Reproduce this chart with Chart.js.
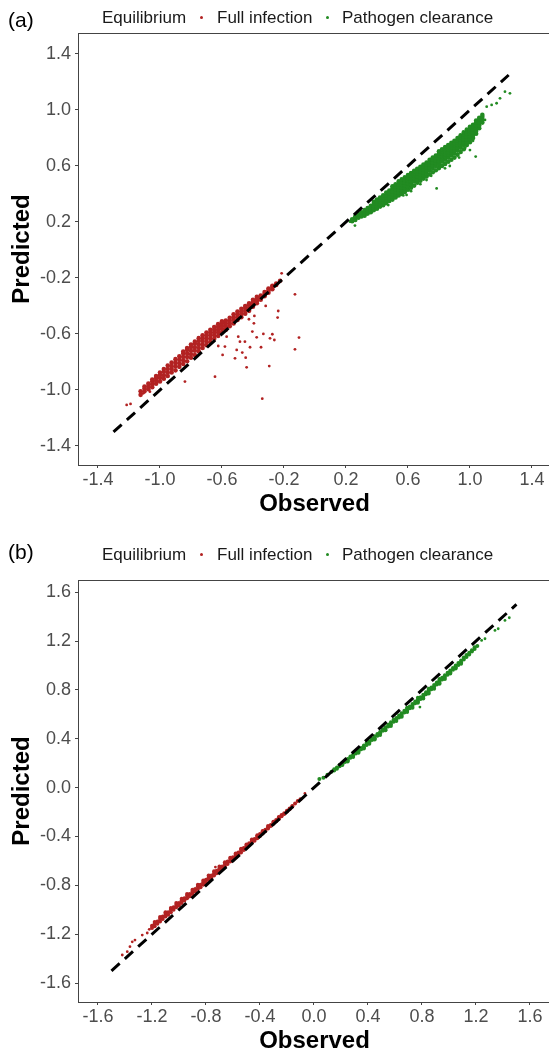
<!DOCTYPE html>
<html>
<head>
<meta charset="utf-8">
<script src="https://cdn.jsdelivr.net/npm/chart.js@4/dist/chart.umd.min.js"></script>
<style>
  body { margin: 0; background: #fff; font-family: "Liberation Sans", Arial, sans-serif; }
  .panel { position: absolute; left: 0; width: 549px; overflow: hidden; }
  .panel canvas { position: absolute; left: 0; top: 0; }
  .tag { position: absolute; left: 8px; font-size: 21px; line-height: 24px; color: #000; }
  .lg { position: absolute; font-size: 17px; line-height: 20px; color: #1a1a1a; white-space: nowrap; }
  .dot { position: absolute; width: 3px; height: 3px; border-radius: 50%; }
</style>
</head>
<body>

<div class="panel" style="top:0; height:520px;">
  <canvas id="chartA" width="555" height="520"></canvas>
  <div class="tag" style="top:8px;">(a)</div>
  <div class="lg" style="left:102px; top:8px;">Equilibrium</div>
  <div class="dot" style="left:200px; top:16px; background:#b22222;"></div>
  <div class="lg" style="left:217px; top:8px;">Full infection</div>
  <div class="dot" style="left:326px; top:16px; background:#228b22;"></div>
  <div class="lg" style="left:342px; top:8px;">Pathogen clearance</div>
</div>

<div class="panel" style="top:520px; height:536px;">
  <canvas id="chartB" width="555" height="536"></canvas>
  <div class="tag" style="top:20px;">(b)</div>
  <div class="lg" style="left:102px; top:25px;">Equilibrium</div>
  <div class="dot" style="left:200px; top:33px; background:#b22222;"></div>
  <div class="lg" style="left:217px; top:25px;">Full infection</div>
  <div class="dot" style="left:326px; top:33px; background:#228b22;"></div>
  <div class="lg" style="left:342px; top:25px;">Pathogen clearance</div>
</div>

<script>
const FONT = '"Liberation Sans", Arial, sans-serif';
const RED = '#b22222';
const GREEN = '#228b22';

// ---- panel (a) ----
const ticksA = [-1.4, -1.0, -0.6, -0.2, 0.2, 0.6, 1.0, 1.4];
const xRangeA = [-1.529, 1.523];
const yRangeA = [-1.536, 1.55];
const refLineA = [-1.3, 1.25];

// columns: [observed, predicted, predicted, ...]
const fullInfectionA = [
  [-1.125, -1.035, -1.01],
  [-1.1, -1.01, -0.99, -0.975],
  [-1.075, -0.995, -0.975, -0.955],
  [-1.05, -0.98, -0.96, -0.94, -0.925],
  [-1.025, -0.955, -0.935, -0.915, -0.9],
  [-1.0, -0.94, -0.915, -0.895, -0.875],
  [-0.975, -0.92, -0.895, -0.87, -0.85],
  [-0.95, -0.9, -0.875, -0.85, -0.825],
  [-0.925, -0.875, -0.85, -0.83, -0.805],
  [-0.9, -0.86, -0.83, -0.805, -0.78],
  [-0.875, -0.835, -0.81, -0.785, -0.76],
  [-0.85, -0.815, -0.79, -0.765, -0.74, -0.725],
  [-0.825, -0.795, -0.765, -0.74, -0.715, -0.7],
  [-0.8, -0.77, -0.745, -0.72, -0.695, -0.675],
  [-0.775, -0.75, -0.72, -0.695, -0.67, -0.655],
  [-0.75, -0.725, -0.7, -0.675, -0.65, -0.63],
  [-0.725, -0.7, -0.675, -0.65, -0.63, -0.61],
  [-0.7, -0.68, -0.655, -0.63, -0.61, -0.59],
  [-0.675, -0.66, -0.635, -0.61, -0.59, -0.57],
  [-0.65, -0.635, -0.61, -0.59, -0.57, -0.55],
  [-0.625, -0.615, -0.59, -0.57, -0.55, -0.53],
  [-0.6, -0.59, -0.565, -0.545, -0.525, -0.51],
  [-0.575, -0.57, -0.545, -0.525, -0.505],
  [-0.55, -0.545, -0.525, -0.505, -0.485],
  [-0.525, -0.525, -0.5, -0.48, -0.46],
  [-0.5, -0.5, -0.48, -0.46, -0.44],
  [-0.475, -0.48, -0.46, -0.44, -0.42],
  [-0.45, -0.455, -0.435, -0.415, -0.4],
  [-0.425, -0.435, -0.415, -0.395, -0.38],
  [-0.4, -0.405, -0.39, -0.37, -0.355],
  [-0.375, -0.38, -0.365, -0.35, -0.335],
  [-0.35, -0.355, -0.34, -0.325],
  [-0.325, -0.33, -0.315, -0.3],
  [-0.3, -0.305, -0.29, -0.275],
  [-0.275, -0.28, -0.265, -0.255],
  [-0.25, -0.25, -0.24],
  [-0.225, -0.22]
];
const fullInfectionOutA = [
  [-0.215, -0.167], [-0.129, -0.317], [-0.237, -0.436], [-0.241, -0.483], [-0.318, -0.4],
  [-0.391, -0.471], [-0.426, -0.495], [-0.394, -0.524], [-0.404, -0.583], [-0.376, -0.624],
  [-0.333, -0.6], [-0.29, -0.631], [-0.275, -0.602], [-0.262, -0.643], [-0.103, -0.626],
  [-0.129, -0.71], [-0.348, -0.695], [-0.419, -0.695], [-0.484, -0.655], [-0.452, -0.655],
  [-0.495, -0.619], [-0.505, -0.714], [-0.516, -0.774], [-0.447, -0.769], [-0.469, -0.733],
  [-0.57, -0.619], [-0.581, -0.69], [-0.596, -0.75], [-0.624, -0.686], [-0.645, -0.905],
  [-0.839, -0.94], [-0.441, -0.838], [-0.295, -0.829], [-0.34, -1.062], [-1.215, -1.107],
  [-1.19, -1.1], [-1.108, -1.024], [-1.065, -1.012]
];
const clearanceA = [
  [0.24, 0.205, 0.22],
  [0.26, 0.215, 0.23, 0.24],
  [0.28, 0.23, 0.245, 0.255],
  [0.3, 0.24, 0.255, 0.27],
  [0.32, 0.245, 0.255, 0.27, 0.285],
  [0.34, 0.26, 0.27, 0.285, 0.3],
  [0.36, 0.27, 0.285, 0.3, 0.315],
  [0.38, 0.285, 0.3, 0.315, 0.33, 0.345],
  [0.4, 0.295, 0.31, 0.33, 0.345, 0.36],
  [0.42, 0.31, 0.325, 0.345, 0.36, 0.375],
  [0.44, 0.32, 0.34, 0.36, 0.375, 0.39],
  [0.46, 0.335, 0.355, 0.375, 0.39, 0.41],
  [0.48, 0.35, 0.37, 0.39, 0.405, 0.425],
  [0.5, 0.36, 0.38, 0.4, 0.42, 0.44, 0.455],
  [0.52, 0.375, 0.395, 0.415, 0.435, 0.455, 0.47],
  [0.54, 0.39, 0.41, 0.43, 0.45, 0.47, 0.49],
  [0.56, 0.4, 0.425, 0.445, 0.465, 0.485, 0.505],
  [0.58, 0.415, 0.44, 0.46, 0.48, 0.5, 0.52],
  [0.6, 0.43, 0.455, 0.475, 0.495, 0.515, 0.535],
  [0.62, 0.445, 0.47, 0.49, 0.51, 0.53, 0.55],
  [0.64, 0.46, 0.49, 0.51, 0.53, 0.55, 0.565],
  [0.66, 0.48, 0.505, 0.525, 0.545, 0.565, 0.58],
  [0.68, 0.495, 0.52, 0.54, 0.56, 0.58, 0.595],
  [0.7, 0.51, 0.535, 0.555, 0.575, 0.595, 0.61],
  [0.72, 0.525, 0.55, 0.57, 0.59, 0.61, 0.625],
  [0.74, 0.54, 0.57, 0.59, 0.61, 0.63, 0.645],
  [0.76, 0.555, 0.585, 0.605, 0.625, 0.645, 0.66],
  [0.78, 0.57, 0.6, 0.62, 0.64, 0.66, 0.675],
  [0.8, 0.585, 0.615, 0.635, 0.655, 0.675, 0.69, 0.705],
  [0.82, 0.6, 0.63, 0.65, 0.67, 0.69, 0.705, 0.72],
  [0.84, 0.615, 0.645, 0.665, 0.685, 0.705, 0.72, 0.735],
  [0.86, 0.63, 0.66, 0.68, 0.7, 0.72, 0.735, 0.75],
  [0.88, 0.645, 0.675, 0.695, 0.715, 0.735, 0.75, 0.765],
  [0.9, 0.66, 0.69, 0.71, 0.73, 0.75, 0.765, 0.78],
  [0.92, 0.68, 0.71, 0.73, 0.75, 0.77, 0.785, 0.8],
  [0.94, 0.7, 0.73, 0.75, 0.77, 0.79, 0.805, 0.82],
  [0.96, 0.72, 0.75, 0.77, 0.79, 0.81, 0.825, 0.84],
  [0.98, 0.75, 0.77, 0.79, 0.81, 0.83, 0.845, 0.86],
  [1.0, 0.77, 0.79, 0.81, 0.83, 0.85, 0.865, 0.88],
  [1.02, 0.8, 0.82, 0.84, 0.86, 0.88, 0.895],
  [1.04, 0.83, 0.85, 0.87, 0.89, 0.91, 0.925],
  [1.06, 0.87, 0.89, 0.91, 0.93, 0.945],
  [1.08, 0.91, 0.93, 0.95, 0.965]
];
const clearanceOutA = [
  [1.226, 1.131], [1.258, 1.119], [1.194, 1.083], [1.172, 1.048], [1.14, 1.036],
  [1.108, 1.024], [1.097, 0.929], [1.0, 0.714], [1.037, 0.667], [0.785, 0.44],
  [0.839, 0.583], [0.72, 0.5], [0.591, 0.393], [0.473, 0.321], [0.258, 0.174],
  [0.226, 0.202], [0.62, 0.42], [0.68, 0.47], [0.75, 0.53], [0.87, 0.6],
  [0.93, 0.66], [0.97, 0.73], [1.02, 0.78], [0.57, 0.39]
];

// ---- panel (b) ----
const ticksB = [-1.6, -1.2, -0.8, -0.4, 0.0, 0.4, 0.8, 1.2, 1.6];
const xRangeB = [-1.748, 1.756];
const yRangeB = [-1.755, 1.70];
const refLineB = [-1.5, 1.5];

const fullInfectionB = [
  [-1.2, -1.13, -1.15], [-1.18, -1.115, -1.135, -1.1], [-1.16, -1.095, -1.115],
  [-1.14, -1.075, -1.095, -1.06], [-1.12, -1.055, -1.075], [-1.1, -1.035, -1.055, -1.02],
  [-1.08, -1.02, -1.04], [-1.06, -1.0, -1.02, -0.985], [-1.04, -0.98, -1.0],
  [-1.02, -0.96, -0.98, -0.945], [-1.0, -0.945, -0.965], [-0.98, -0.925, -0.945, -0.91],
  [-0.96, -0.905, -0.925], [-0.94, -0.885, -0.905, -0.87], [-0.92, -0.87, -0.89],
  [-0.9, -0.85, -0.87, -0.835], [-0.88, -0.83, -0.85], [-0.86, -0.81, -0.83, -0.795],
  [-0.84, -0.795, -0.815], [-0.82, -0.775, -0.795, -0.76], [-0.8, -0.755, -0.775],
  [-0.78, -0.735, -0.755, -0.72], [-0.76, -0.72, -0.74], [-0.74, -0.7, -0.72, -0.685],
  [-0.72, -0.68, -0.7], [-0.7, -0.66, -0.68, -0.645], [-0.68, -0.645, -0.665],
  [-0.66, -0.625, -0.645, -0.61], [-0.64, -0.605, -0.625], [-0.62, -0.585, -0.605, -0.575],
  [-0.6, -0.57, -0.59], [-0.58, -0.55, -0.57, -0.54], [-0.56, -0.53, -0.55],
  [-0.54, -0.51, -0.53, -0.5], [-0.52, -0.495, -0.51], [-0.5, -0.475, -0.49, -0.465],
  [-0.48, -0.455, -0.47], [-0.46, -0.435, -0.45, -0.425], [-0.44, -0.42, -0.435],
  [-0.42, -0.4, -0.415, -0.39], [-0.4, -0.38, -0.395], [-0.38, -0.36, -0.375, -0.355],
  [-0.36, -0.345, -0.355], [-0.34, -0.325, -0.335, -0.315], [-0.32, -0.305, -0.315],
  [-0.3, -0.285, -0.295, -0.28], [-0.28, -0.265, -0.275], [-0.26, -0.245, -0.255, -0.24],
  [-0.24, -0.225, -0.235], [-0.22, -0.21, -0.215], [-0.2, -0.19, -0.195],
  [-0.18, -0.17, -0.175], [-0.16, -0.15, -0.155], [-0.14, -0.13], [-0.12, -0.11], [-0.1, -0.095]
];
const fullInfectionOutB = [
  [-1.42, -1.37], [-1.383, -1.343], [-1.346, -1.262], [-1.326, -1.248], [-1.272, -1.207],
  [-1.235, -1.19], [-1.22, -1.16], [-1.363, -1.302], [-0.067, -0.048], [-0.73, -0.65]
];
const clearanceB = [
  [0.04, 0.07], [0.07, 0.08], [0.1, 0.105], [0.13, 0.13], [0.15, 0.14, 0.15],
  [0.17, 0.155, 0.165], [0.19, 0.175, 0.185], [0.21, 0.19, 0.2, 0.185], [0.23, 0.21, 0.22],
  [0.25, 0.225, 0.235, 0.215], [0.27, 0.245, 0.255], [0.29, 0.26, 0.27, 0.25],
  [0.31, 0.28, 0.29], [0.33, 0.295, 0.305, 0.285], [0.35, 0.315, 0.325],
  [0.37, 0.33, 0.345, 0.32], [0.39, 0.35, 0.365], [0.41, 0.37, 0.38, 0.36],
  [0.43, 0.39, 0.4], [0.45, 0.405, 0.42, 0.395], [0.47, 0.425, 0.44],
  [0.49, 0.445, 0.455, 0.43], [0.51, 0.465, 0.475], [0.53, 0.48, 0.495, 0.47],
  [0.55, 0.5, 0.515], [0.57, 0.52, 0.535, 0.505], [0.59, 0.54, 0.555],
  [0.61, 0.555, 0.57, 0.545], [0.63, 0.575, 0.59], [0.65, 0.595, 0.61, 0.58],
  [0.67, 0.615, 0.63], [0.69, 0.63, 0.645, 0.62, 0.655], [0.71, 0.65, 0.665],
  [0.73, 0.67, 0.685, 0.655], [0.75, 0.69, 0.705], [0.77, 0.705, 0.72, 0.695, 0.735],
  [0.79, 0.725, 0.74], [0.81, 0.745, 0.76, 0.73], [0.83, 0.765, 0.78],
  [0.85, 0.785, 0.8, 0.77, 0.81], [0.87, 0.805, 0.82], [0.89, 0.825, 0.84, 0.81],
  [0.91, 0.845, 0.86], [0.93, 0.865, 0.88, 0.85, 0.89], [0.95, 0.885, 0.9],
  [0.97, 0.905, 0.92, 0.89], [0.99, 0.925, 0.94], [1.01, 0.945, 0.96, 0.935],
  [1.03, 0.965, 0.98], [1.05, 0.985, 1.0, 0.975], [1.07, 1.005, 1.02],
  [1.09, 1.025, 1.04, 1.015], [1.11, 1.05, 1.065], [1.13, 1.07, 1.085],
  [1.15, 1.09, 1.105], [1.17, 1.115, 1.125], [1.19, 1.135, 1.15], [1.21, 1.16]
];
const clearanceOutB = [
  [1.242, 1.205], [1.267, 1.219], [1.341, 1.287], [1.365, 1.301], [1.415, 1.369],
  [1.447, 1.391], [0.785, 0.66], [0.933, 0.851], [0.513, 0.469]
];

// one {x, y} per observation
const fromColumns = cols => cols.flatMap(([x, ...ys]) => ys.map(y => ({ x, y })));
const fromPairs = pairs => pairs.map(([x, y]) => ({ x, y }));

const frame = {
  id: 'frame',
  afterDraw(chart) {
    const { ctx, chartArea: { left, top, right, bottom } } = chart;
    ctx.save();
    ctx.strokeStyle = '#444';
    ctx.lineWidth = 1;
    ctx.strokeRect(left + 0.5, top + 0.5, right - left, bottom - top);
    ctx.restore();
  }
};

const axis = (range, ticks, title, isY, size, titlePad) => ({
  type: 'linear',
  min: range[0],
  max: range[1],
  afterBuildTicks: s => { s.ticks = ticks.map(v => ({ value: v })); },
  afterFit: s => { if (isY) s.width = size; else s.height = size; },
  grid: { display: true, drawOnChartArea: false, drawTicks: true, tickLength: 3, color: '#444', tickColor: '#444' },
  border: { display: true, color: '#444', width: 1 },
  ticks: {
    color: '#4d4d4d', font: { family: FONT, size: 18 }, padding: isY ? 4 : 1,
    autoSkip: false, maxRotation: 0, callback: v => v.toFixed(1)
  },
  title: {
    display: true, text: title, color: '#000',
    font: { family: FONT, size: 24, weight: 'bold' }, padding: titlePad
  }
});

const makeChart = (id, cfg) => new Chart(document.getElementById(id), {
  type: 'scatter',
  data: {
    datasets: [
      {
        type: 'line', label: 'y = x',
        data: cfg.refLine.map(v => ({ x: v, y: v })),
        borderColor: '#000', borderWidth: 3, borderDash: [11, 7], borderCapStyle: 'butt',
        pointRadius: 0, showLine: true, fill: false
      },
      { label: 'Full infection', data: fromColumns(cfg.red), backgroundColor: RED, pointRadius: cfg.bandRadius, pointBorderWidth: 0 },
      { label: 'Full infection', data: fromPairs(cfg.redOut), backgroundColor: RED, pointRadius: 1.4, pointBorderWidth: 0 },
      { label: 'Pathogen clearance', data: fromColumns(cfg.green), backgroundColor: GREEN, pointRadius: cfg.bandRadius, pointBorderWidth: 0 },
      { label: 'Pathogen clearance', data: fromPairs(cfg.greenOut), backgroundColor: GREEN, pointRadius: 1.4, pointBorderWidth: 0 }
    ]
  },
  options: {
    responsive: false,
    devicePixelRatio: 1,
    animation: false,
    events: [],
    layout: { padding: { top: cfg.top, right: 1, bottom: 0, left: 0 } },
    plugins: { legend: { display: false }, tooltip: { enabled: false } },
    scales: {
      x: axis(cfg.xRange, cfg.ticks, 'Observed', false, cfg.xHeight, { top: 0, bottom: cfg.xTitlePad }),
      y: axis(cfg.yRange, cfg.ticks, 'Predicted', true, 78, { top: 8, bottom: 0 })
    }
  },
  plugins: [frame]
});

makeChart('chartA', {
  ticks: ticksA, xRange: xRangeA, yRange: yRangeA, refLine: refLineA,
  red: fullInfectionA, redOut: fullInfectionOutA, green: clearanceA, greenOut: clearanceOutA,
  top: 33, xHeight: 55, xTitlePad: 1, bandRadius: 2.3
});

makeChart('chartB', {
  ticks: ticksB, xRange: xRangeB, yRange: yRangeB, refLine: refLineB,
  red: fullInfectionB, redOut: fullInfectionOutB, green: clearanceB, greenOut: clearanceOutB,
  top: 60, xHeight: 54, xTitlePad: 0, bandRadius: 2.0
});
</script>
</body>
</html>
